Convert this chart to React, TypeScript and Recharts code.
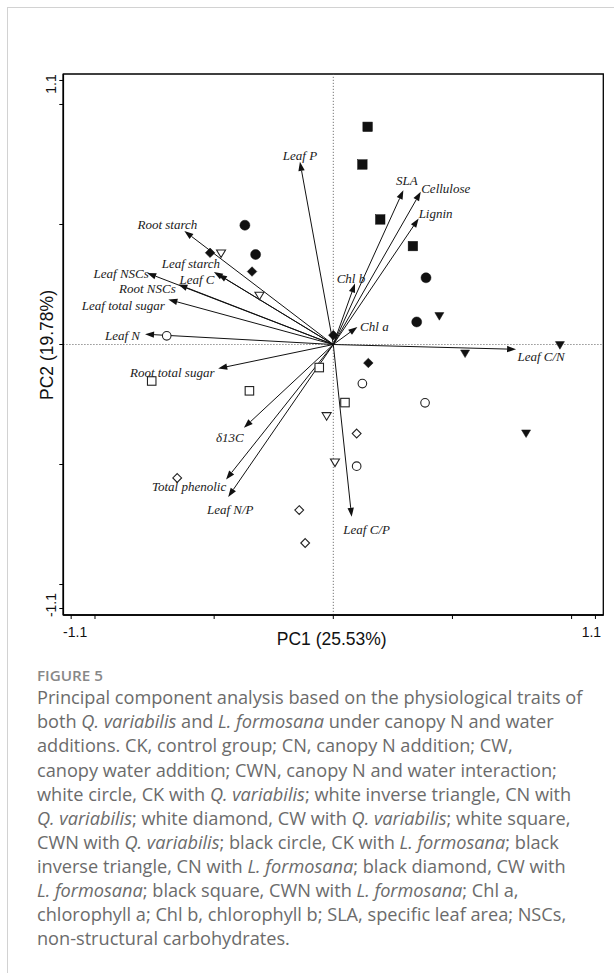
import React from 'react';
import { ScatterChart, Scatter, XAxis, YAxis, ReferenceLine, ReferenceArea } from 'recharts';

// loadings (arrows)
const loadingNames = [
  'Leaf P', 'Root starch', 'Leaf starch', 'Leaf C', 'Leaf NSCs', 'Root NSCs',
  'Leaf total sugar', 'Leaf N', 'Root total sugar', 'δ13C', 'Total phenolic',
  'Leaf N/P', 'Leaf C/P', 'Leaf C/N', 'Chl a', 'Chl b', 'SLA', 'Cellulose', 'Lignin',
];
const loadingPC1 = [
  -0.14, -0.625, -0.501, -0.484, -0.781, -0.65,
  -0.692, -0.79, -0.483, -0.375, -0.45,
  -0.441, 0.077, 0.767, 0.101, 0.091, 0.294, 0.367, 0.358,
];
const loadingPC2 = [
  0.761, 0.473, 0.3025, 0.293, 0.298, 0.25,
  0.1875, 0.043, -0.1, -0.347, -0.5625,
  -0.635, -0.718, -0.02, 0.073, 0.254, 0.643, 0.636, 0.525,
];

// sample scores
const ckQvPC1 = [-0.699, 0.122, 0.385, 0.098];
const ckQvPC2 = [0.036, -0.163, -0.243, -0.507];
const cnQvPC1 = [-0.471, -0.31, -0.028, 0.007];
const cnQvPC2 = [0.379, 0.203, -0.299, -0.492];
const cwQvPC1 = [-0.655, -0.143, -0.118, 0.098];
const cwQvPC2 = [-0.556, -0.69, -0.827, -0.371];
const cwnQvPC1 = [-0.762, -0.352, -0.059, 0.049];
const cwnQvPC2 = [-0.152, -0.193, -0.096, -0.242];
const ckLfPC1 = [-0.371, -0.326, 0.389, 0.35];
const ckLfPC2 = [0.497, 0.375, 0.278, 0.094];
const cnLfPC1 = [0.445, 0.553, 0.951, 0.809];
const cnLfPC2 = [0.118, -0.038, -0.003, -0.371];
const cwLfPC1 = [-0.517, -0.341, 0.0, 0.147];
const cwLfPC2 = [0.382, 0.304, 0.039, -0.077];
const cwnLfPC1 = [0.144, 0.122, 0.197, 0.334];
const cwnLfPC2 = [0.907, 0.75, 0.521, 0.41];

const axisTicks = [-1.1, -1, -0.5, 0, 0.5, 1, 1.1];
const labelledTicks = [-1.1, 1.1];
const xTitle = 'PC1 (25.53%)';
const yTitle = 'PC2 (19.78%)';

// label placement relative to arrow tip (px)
const labelOffsets: Record<string, [number, number]> = {
  'Leaf P': [0, -2],
  'Root starch': [-17, -2.4],
  'Leaf starch': [-23, -3.4],
  'Leaf C': [-21, 10],
  'Leaf NSCs': [-26, 4.6],
  'Root NSCs': [-31, 9],
  'Leaf total sugar': [-45, 10.7],
  'Leaf N': [-22.5, 6],
  'Root total sugar': [-46, 8.4],
  'δ13C': [-14, 14],
  'Total phenolic': [-37, 11.4],
  'Leaf N/P': [2, 17.3],
  'Leaf C/P': [15, 17.3],
  'Leaf C/N': [25, 11.7],
  'Chl a': [17, 4],
  'Chl b': [-4, -0.6],
  SLA: [3.4, -5],
  Cellulose: [25, 1],
  Lignin: [17, 0],
};

const toPoints = (a: number[], b: number[]) => a.map((v, i) => ({ pc1: v, pc2: b[i] }));

type Kind = 'circle' | 'triangle' | 'diamond' | 'square';
const groups: { name: string; kind: Kind; filled: boolean; data: { pc1: number; pc2: number }[] }[] = [
  { name: 'CK Q', kind: 'circle', filled: false, data: toPoints(ckQvPC1, ckQvPC2) },
  { name: 'CN Q', kind: 'triangle', filled: false, data: toPoints(cnQvPC1, cnQvPC2) },
  { name: 'CW Q', kind: 'diamond', filled: false, data: toPoints(cwQvPC1, cwQvPC2) },
  { name: 'CWN Q', kind: 'square', filled: false, data: toPoints(cwnQvPC1, cwnQvPC2) },
  { name: 'CK L', kind: 'circle', filled: true, data: toPoints(ckLfPC1, ckLfPC2) },
  { name: 'CN L', kind: 'triangle', filled: true, data: toPoints(cnLfPC1, cnLfPC2) },
  { name: 'CW L', kind: 'diamond', filled: true, data: toPoints(cwLfPC1, cwLfPC2) },
  { name: 'CWN L', kind: 'square', filled: true, data: toPoints(cwnLfPC1, cwnLfPC2) },
];

const XDOM: [number, number] = [-1.133, 1.133];
const YDOM: [number, number] = [-1.127, 1.127];

const Marker = ({ cx, cy, kind, filled }: any) => {
  const fill = filled ? '#111' : '#fff';
  const stroke = filled ? '#111' : '#222';
  const sw = filled ? 0.5 : 1.1;
  if (kind === 'circle') {
    return <circle cx={cx} cy={cy} r={filled ? 5 : 4.3} fill={fill} stroke={stroke} strokeWidth={sw} />;
  }
  if (kind === 'square') {
    const s = filled ? 9.5 : 8.5;
    return <rect x={cx - s / 2} y={cy - s / 2} width={s} height={s} fill={fill} stroke={stroke} strokeWidth={sw} />;
  }
  if (kind === 'diamond') {
    const r = filled ? 4.8 : 4.4;
    return (
      <polygon
        points={`${cx},${cy - r} ${cx + r},${cy} ${cx},${cy + r} ${cx - r},${cy}`}
        fill={fill}
        stroke={stroke}
        strokeWidth={sw}
      />
    );
  }
  const w = 4.5;
  return (
    <polygon
      points={`${cx - w},${cy - 3.6} ${cx + w},${cy - 3.6} ${cx},${cy + 4}`}
      fill={fill}
      stroke={stroke}
      strokeWidth={sw}
    />
  );
};

const Arrow = ({ x1, y1, x2, y2, name }: any) => {
  const dx = x2 - x1;
  const dy = y2 - y1;
  const len = Math.sqrt(dx * dx + dy * dy) || 1;
  const ux = dx / len;
  const uy = dy / len;
  const hl = 9;
  const hw = 3.2;
  const bx = x2 - ux * hl;
  const by = y2 - uy * hl;
  const off = labelOffsets[name] || [0, 0];
  return (
    <g>
      <line x1={x1} y1={y1} x2={bx} y2={by} stroke="#111" strokeWidth={1} />
      <polygon
        points={`${x2},${y2} ${bx - uy * hw},${by + ux * hw} ${bx + uy * hw},${by - ux * hw}`}
        fill="#111"
      />
      <text
        x={x2 + off[0]}
        y={y2 + off[1]}
        textAnchor="middle"
        fontFamily="'Liberation Serif', 'Times New Roman', serif"
        fontStyle="italic"
        fontSize={13}
        fill="#1a1a1a"
      >
        {name}
      </text>
    </g>
  );
};

const XTick = ({ x, payload }: any) => {
  if (!labelledTicks.includes(payload.value)) return <g />;
  const shift = payload.value < 0 ? 4 : -4;
  return (
    <text x={x + shift} y={637} textAnchor="middle" fontFamily="'Liberation Sans', Arial, sans-serif" fontSize={14} fill="#111">
      {payload.value < 0 ? '-1.1' : '1.1'}
    </text>
  );
};

const YTick = ({ y, payload }: any) => {
  if (!labelledTicks.includes(payload.value)) return <g />;
  const shift = payload.value < 0 ? -3.5 : 3.5;
  const yy = y + shift;
  return (
    <text
      x={56.5}
      y={yy}
      transform={`rotate(-90 56.5 ${yy})`}
      textAnchor="middle"
      fontFamily="'Liberation Sans', Arial, sans-serif"
      fontSize={14}
      fill="#111"
    >
      {payload.value < 0 ? '-1.1' : '1.1'}
    </text>
  );
};

const captionLines: React.ReactNode[][] = [
  ['Principal component analysis based on the physiological traits of'],
  ['both ', <i>Q. variabilis</i>, ' and ', <i>L. formosana</i>, ' under canopy N and water'],
  ['additions. CK, control group; CN, canopy N addition; CW,'],
  ['canopy water addition; CWN, canopy N and water interaction;'],
  ['white circle, CK with ', <i>Q. variabilis</i>, '; white inverse triangle, CN with'],
  [<i>Q. variabilis</i>, '; white diamond, CW with ', <i>Q. variabilis</i>, '; white square,'],
  ['CWN with ', <i>Q. variabilis</i>, '; black circle, CK with ', <i>L. formosana</i>, '; black'],
  ['inverse triangle, CN with ', <i>L. formosana</i>, '; black diamond, CW with'],
  [<i>L. formosana</i>, '; black square, CWN with ', <i>L. formosana</i>, '; Chl a,'],
  ['chlorophyll a; Chl b, chlorophyll b; SLA, specific leaf area; NSCs,'],
  ['non-structural carbohydrates.'],
];

export default function App() {
  return (
    <div style={{ position: 'absolute', left: 0, top: 0, width: 614, height: 973, overflow: 'hidden', background: '#fff' }}>
      <div
        style={{
          position: 'absolute',
          left: 7,
          top: 7,
          width: 700,
          height: 1100,
          border: '1px solid #d2d2d2',
        }}
      />
      <div style={{ position: 'absolute', left: 0, top: 0 }}>
        <ScatterChart width={614} height={660} margin={{ top: 74, right: 10.7, bottom: 15, left: 23.3 }}>
          <XAxis
            type="number"
            dataKey="pc1"
            domain={XDOM}
            allowDataOverflow
            ticks={axisTicks}
            interval={0}
            height={30}
            tickSize={4}
            axisLine={{ stroke: '#000', strokeWidth: 1.6 }}
            tickLine={{ stroke: '#000', strokeWidth: 1 }}
            tick={<XTick />}
          />
          <YAxis
            type="number"
            dataKey="pc2"
            domain={YDOM}
            allowDataOverflow
            ticks={axisTicks}
            interval={0}
            width={40}
            tickSize={4}
            axisLine={{ stroke: '#000', strokeWidth: 1.6 }}
            tickLine={{ stroke: '#000', strokeWidth: 1 }}
            tick={<YTick />}
          />
          <ReferenceArea x1={XDOM[0]} x2={XDOM[1]} y1={YDOM[0]} y2={YDOM[1]} fill="none" stroke="#000" strokeWidth={1.3} />
          <ReferenceLine x={0} stroke="#555" strokeWidth={0.8} strokeDasharray="1.2 1.8" />
          <ReferenceLine y={0} stroke="#555" strokeWidth={0.8} strokeDasharray="1.2 1.8" />
          {loadingNames.map((name, i) => (
            <ReferenceLine
              key={name}
              segment={[
                { x: 0, y: 0 },
                { x: loadingPC1[i], y: loadingPC2[i] },
              ]}
              shape={(p: any) => <Arrow {...p} name={name} />}
            />
          ))}
          {groups.map((g) => (
            <Scatter
              key={g.name}
              name={g.name}
              data={g.data}
              isAnimationActive={false}
              shape={(p: any) => <Marker cx={p.cx} cy={p.cy} kind={g.kind} filled={g.filled} />}
            />
          ))}
        </ScatterChart>
      </div>
      <svg width={614} height={973} style={{ position: 'absolute', left: 0, top: 0, pointerEvents: 'none' }}>
        <text x={331.7} y={645} textAnchor="middle" fontFamily="'Liberation Sans', Arial, sans-serif" fontSize={17.5} fill="#111">
          {xTitle}
        </text>
        <text
          x={52.5}
          y={345}
          transform="rotate(-90 52.5 345)"
          textAnchor="middle"
          fontFamily="'Liberation Sans', Arial, sans-serif"
          fontSize={17.5}
          fill="#111"
        >
          {yTitle}
        </text>
        <g transform="translate(37 0) scale(1.05 1) translate(-37 0)">
          <text x={37} y={681} fontFamily="'Open Sans', sans-serif" fontWeight={600} fontSize={14.5} fill="#888">
            FIGURE 5
          </text>
          {captionLines.map((parts, i) => (
            <text key={i} x={37} y={704.3 + i * 24.07} fontFamily="'Open Sans', sans-serif" fontSize={17.3} fill="#6b6b6b">
              {parts.map((p, j) =>
                typeof p === 'string' ? (
                  <tspan key={j}>{p}</tspan>
                ) : (
                  <tspan key={j} fontStyle="italic">
                    {(p as any).props.children}
                  </tspan>
                ),
              )}
            </text>
          ))}
        </g>
      </svg>
    </div>
  );
}
